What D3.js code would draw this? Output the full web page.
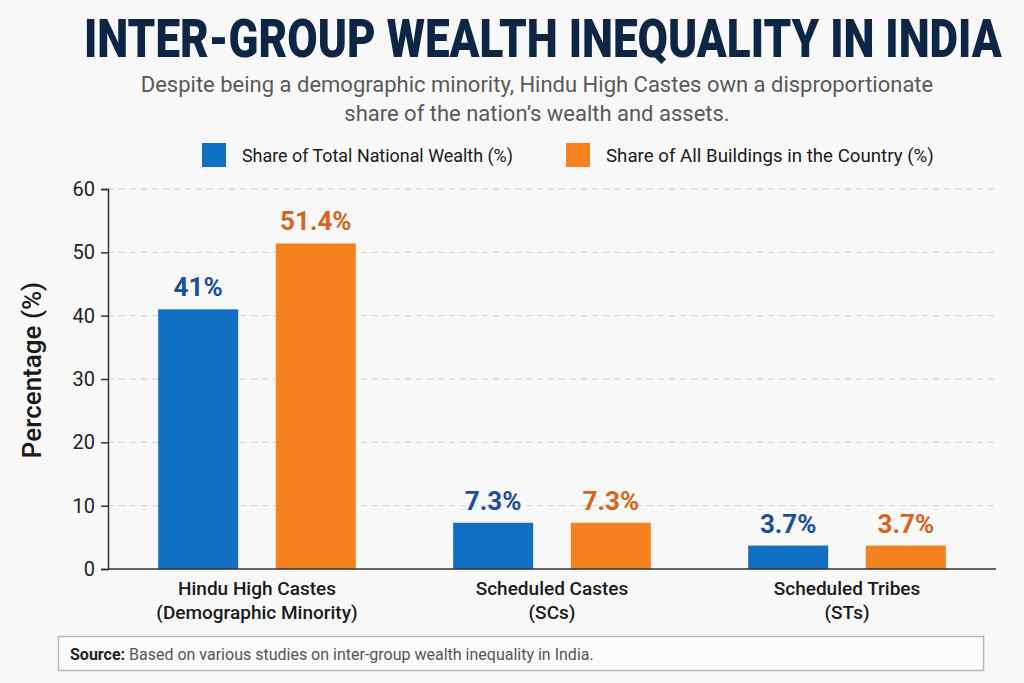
<!DOCTYPE html>
<html>
<head>
<meta charset="utf-8">
<script src="https://cdn.jsdelivr.net/npm/d3@7"></script>
<style>
  html, body { margin: 0; padding: 0; background: #f8f8f8; }
  svg { display: block; font-family: Roboto, "Noto Sans", sans-serif; }
</style>
</head>
<body>
<svg id="chart"></svg>
<script>
// data
const categories = ["Hindu High Castes", "Scheduled Castes", "Scheduled Tribes"];
const categorySub = ["(Demographic Minority)", "(SCs)", "(STs)"];
const seriesNames = ["Share of Total National Wealth (%)", "Share of All Buildings in the Country (%)"];
const wealthShare = [41, 7.3, 3.7];
const buildingShare = [51.4, 7.3, 3.7];
const wealthLabels = ["41%", "7.3%", "3.7%"];
const buildingLabels = ["51.4%", "7.3%", "3.7%"];
const yTicks = [0, 10, 20, 30, 40, 50, 60];

const W = 1024, H = 683;
const barColors = ["#1170c1", "#f5811f"];
const labelColors = ["#1a4f9e", "#d6641b"];

const svg = d3.select("#chart").attr("width", W).attr("height", H);
svg.append("rect").attr("width", W).attr("height", H).attr("fill", "#f8f8f8");

// squeeze a text horizontally so it fills the given width
function fitWidth(sel, x, yPos, width)
{
    const natural = sel.node().getComputedTextLength();
    const sx = width / natural;
    sel.attr("transform", `translate(${x},${yPos}) scale(${sx},1)`);
}

// title + subtitle
const title = svg.append("text")
    .style("font-size", "54px").style("font-weight", 900)
    .style("fill", "#0e2645")
    .text("INTER-GROUP WEALTH INEQUALITY IN INDIA");
fitWidth(title, 84, 57, 918);

const subLines = ["Despite being a demographic minority, Hindu High Castes own a disproportionate",
                  "share of the nation\u2019s wealth and assets."];
svg.append("g").selectAll("text").data(subLines).join("text")
    .attr("x", 537).attr("y", (d, i) => 92 + i * 29)
    .attr("text-anchor", "middle")
    .style("font-size", "22px").style("fill", "#595959")
    .text(d => d);

// legend
const legendX = [202, 566];
const legendW = [271, 328];
const legend = svg.append("g").selectAll("g").data(seriesNames).join("g")
    .attr("transform", (d, i) => `translate(${legendX[i]},143)`);
legend.append("rect").attr("width", 24).attr("height", 24)
    .attr("fill", (d, i) => barColors[i]);
legend.append("text")
    .style("font-size", "18px").style("fill", "#1a1a1a")
    .text(d => d)
    .each(function(d, i) { fitWidth(d3.select(this), 40, 19, legendW[i]); });

// scales
const plotLeft = 108, plotRight = 996, plotTop = 189, plotBottom = 569;
const x0 = d3.scaleBand().domain(categories).range([plotLeft, plotRight])
    .paddingInner(0.33).paddingOuter(0.17);
const x1 = d3.scaleBand().domain([0, 1]).range([0, x0.bandwidth()]).paddingInner(0.32);
const y = d3.scaleLinear().domain([0, 60]).range([plotBottom, plotTop]);

// gridlines
svg.append("g").selectAll("line").data(yTicks.filter(t => t > 0)).join("line")
    .attr("x1", plotLeft).attr("x2", plotRight)
    .attr("y1", d => y(d)).attr("y2", d => y(d))
    .attr("stroke", "#d0d0d0").attr("stroke-width", 1)
    .attr("stroke-dasharray", "6,5");

// y axis
const yAxis = svg.append("g")
    .attr("transform", `translate(${plotLeft},0)`)
    .call(d3.axisLeft(y).tickValues(yTicks).tickSize(7).tickPadding(6));
yAxis.select(".domain").attr("stroke", "#333").attr("stroke-width", 1.5);
yAxis.selectAll(".tick line").attr("stroke", "#333").attr("stroke-width", 1.5);
yAxis.selectAll(".tick text")
    .style("font-size", "20px").style("fill", "#222")
    .style("font-family", "Roboto, sans-serif");

svg.append("text")
    .attr("transform", `translate(41,370) rotate(-90)`)
    .attr("text-anchor", "middle")
    .style("font-size", "26px").style("font-weight", 500).style("fill", "#1a1a1a")
    .text("Percentage (%)");

// bars
const series = [wealthShare, buildingShare];
const seriesLabels = [wealthLabels, buildingLabels];
series.forEach((vals, s) => {
    const g = svg.append("g");
    g.selectAll("rect").data(vals).join("rect")
        .attr("x", (d, i) => x0(categories[i]) + x1(s))
        .attr("y", d => y(d))
        .attr("width", x1.bandwidth())
        .attr("height", d => y(0) - y(d))
        .attr("fill", barColors[s]);
    g.selectAll("text").data(vals).join("text")
        .attr("x", (d, i) => x0(categories[i]) + x1(s) + x1.bandwidth() / 2)
        .attr("y", d => y(d) - 13)
        .attr("text-anchor", "middle")
        .style("font-size", "26px").style("font-weight", 700)
        .style("fill", labelColors[s])
        .text((d, i) => seriesLabels[s][i]);
});

// baseline
svg.append("line")
    .attr("x1", plotLeft).attr("x2", plotRight)
    .attr("y1", y(0)).attr("y2", y(0))
    .attr("stroke", "#333").attr("stroke-width", 1.5);

// category labels
const catG = svg.append("g").selectAll("text").data(categories).join("text")
    .attr("text-anchor", "middle")
    .style("font-size", "19px").style("font-weight", 500).style("fill", "#1a1a1a");
catG.append("tspan")
    .attr("x", d => x0(d) + x0.bandwidth() / 2).attr("y", 595)
    .text(d => d);
catG.append("tspan")
    .attr("x", d => x0(d) + x0.bandwidth() / 2).attr("y", 619)
    .text((d, i) => categorySub[i]);

// source box
svg.append("rect")
    .attr("x", 58.5).attr("y", 636.5).attr("width", 925).attr("height", 34)
    .attr("fill", "#fbfbfb").attr("stroke", "#b8b8b8").attr("stroke-width", 1.5);
const src = svg.append("text")
    .attr("x", 70).attr("y", 660)
    .style("font-size", "16px").style("fill", "#555");
src.append("tspan").style("font-weight", 700).style("fill", "#222").text("Source:");
src.append("tspan").text(" Based on various studies on inter-group wealth inequality in India.");
</script>
</body>
</html>
